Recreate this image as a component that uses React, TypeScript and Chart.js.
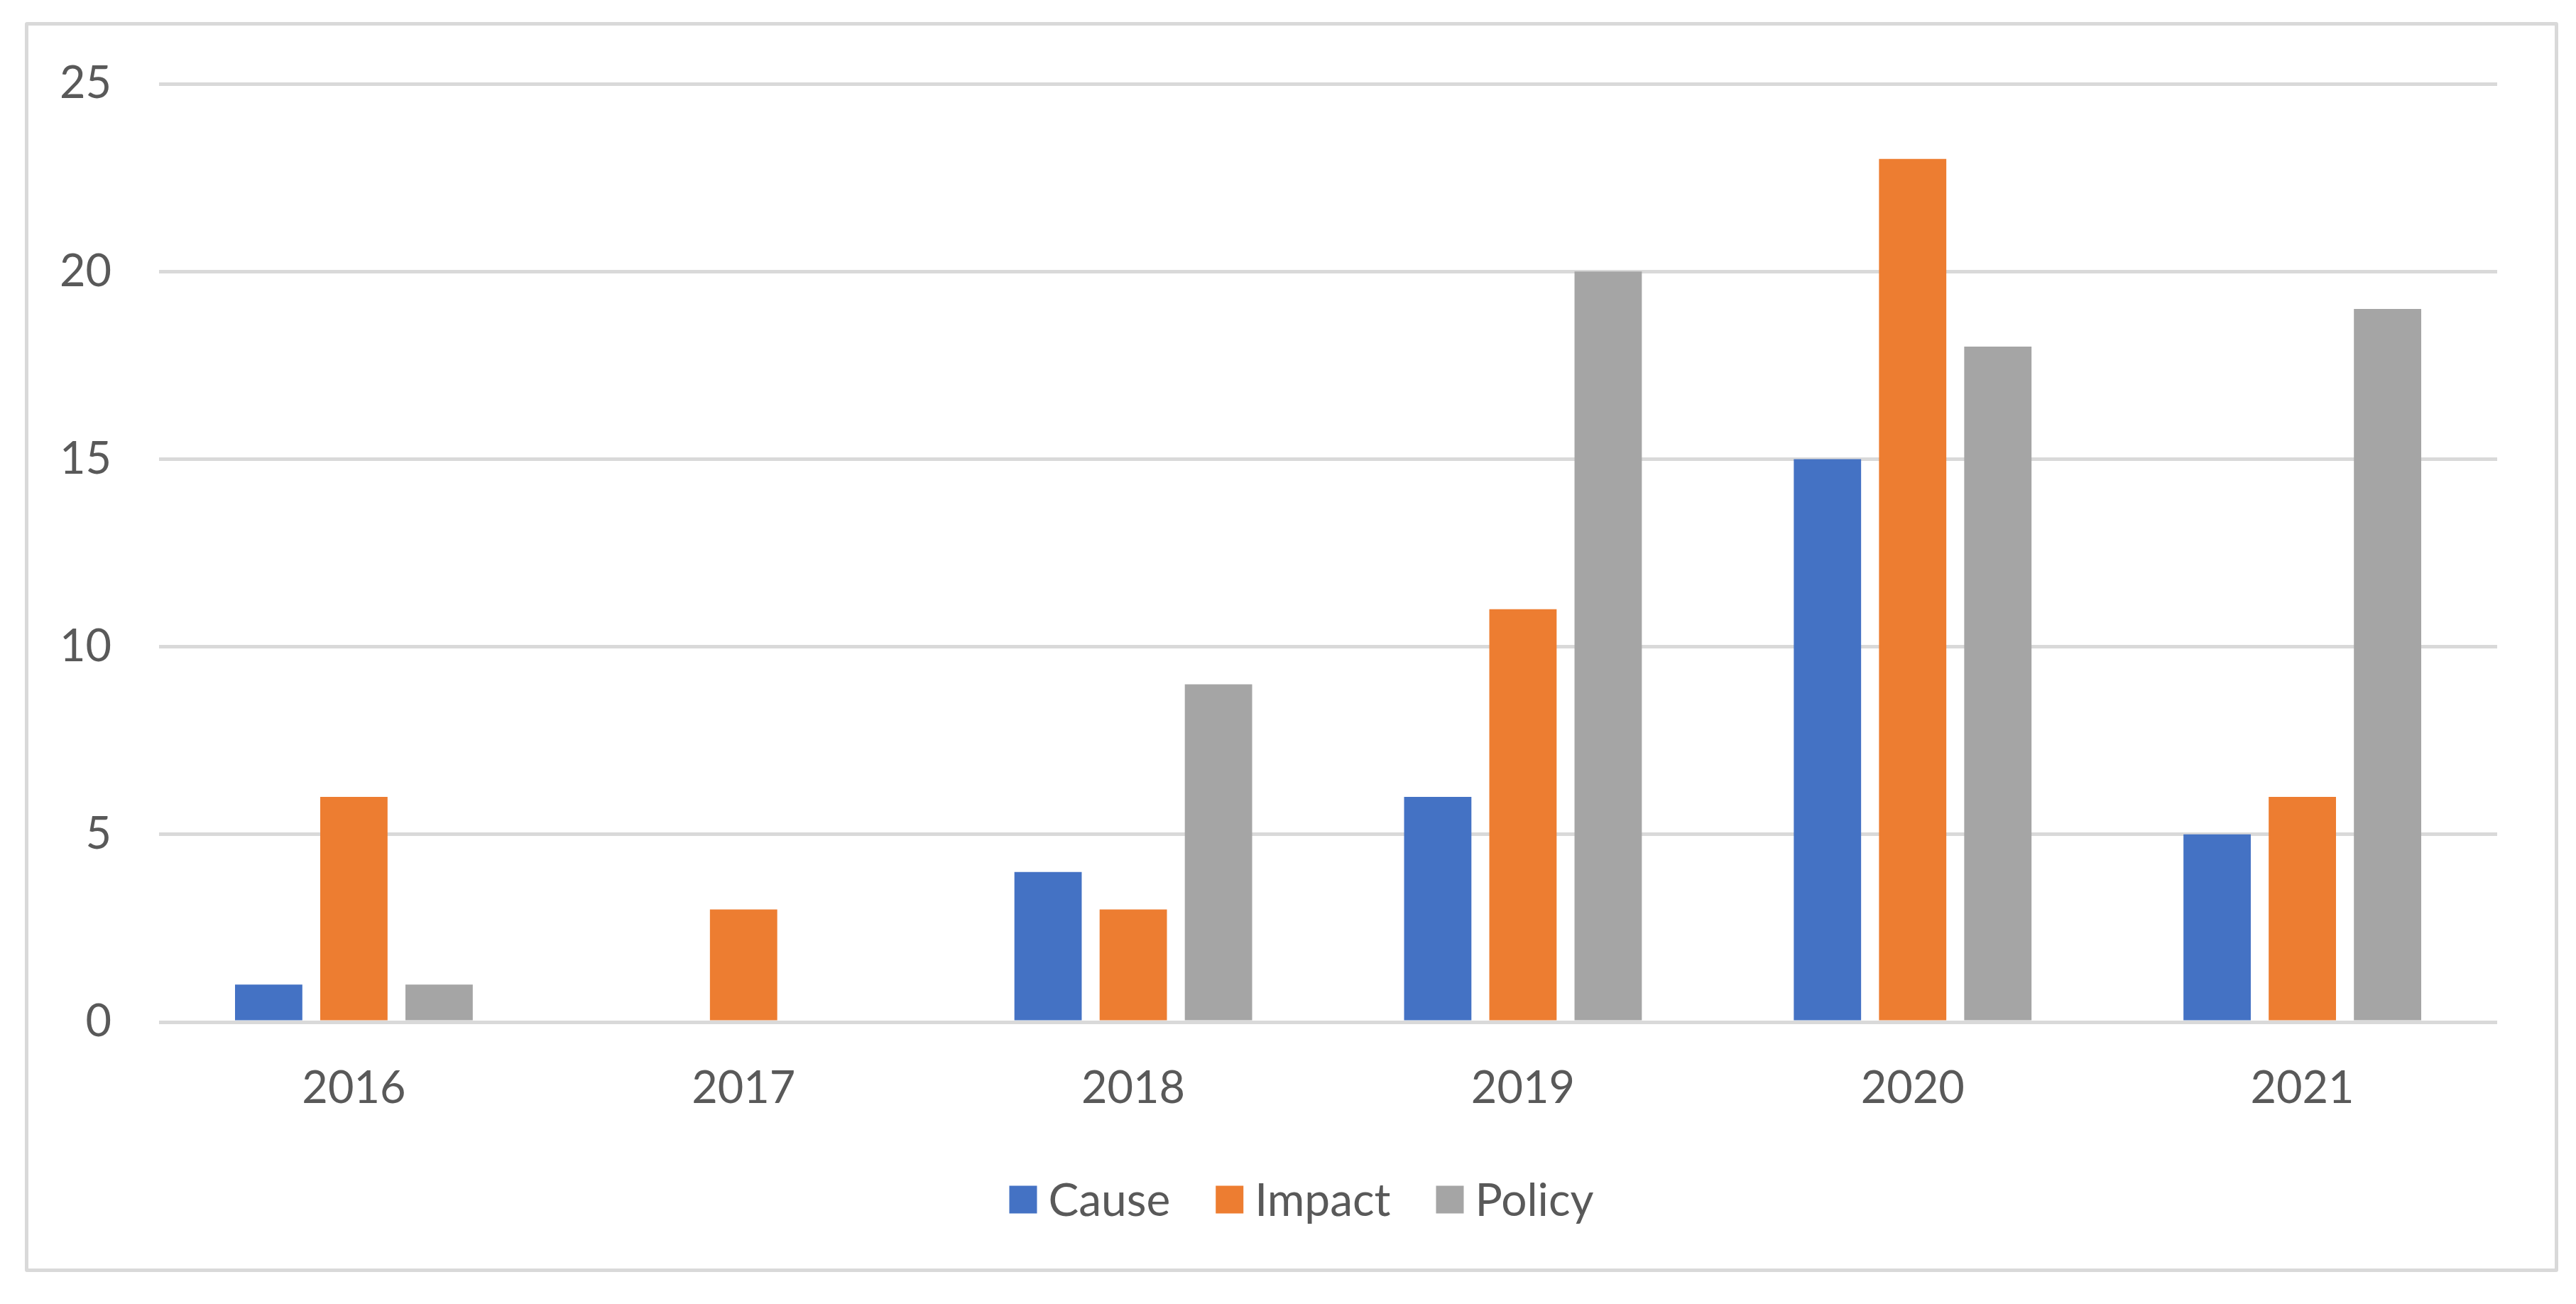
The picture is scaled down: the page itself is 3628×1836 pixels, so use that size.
import React, { useEffect, useRef } from "react";
import { Chart, registerables } from "chart.js";

Chart.register(...registerables);

const categories = ["2016", "2017", "2018", "2019", "2020", "2021"];
const causeValues = [1, 0, 4, 6, 15, 5];
const impactValues = [6, 3, 3, 11, 23, 6];
const policyValues = [1, 0, 9, 20, 18, 19];
const yTicks = [0, 5, 10, 15, 20, 25];

const FONT = "Lato, 'Open Sans', sans-serif";
const TEXT = "#595959";
const GRID = "#d9d9d9";

const legendPlugin = {
  id: "customLegend",
  afterDraw(chart: any) {
    const ctx = chart.ctx as CanvasRenderingContext2D;
    const box = 39;
    const gapText = 16;
    const gapItem = 64;
    const centerX = 1833;
    const centerY = 1689;
    ctx.save();
    ctx.font = `64px ${FONT}`;
    ctx.textBaseline = "middle";
    ctx.textAlign = "left";
    const items = chart.data.datasets.map((d: any) => ({
      label: d.label as string,
      color: d.backgroundColor as string,
      w: ctx.measureText(d.label).width,
    }));
    const total =
      items.reduce((a: number, it: any) => a + box + gapText + it.w, 0) +
      gapItem * (items.length - 1);
    let x = centerX - total / 2;
    for (const it of items) {
      ctx.fillStyle = it.color;
      ctx.fillRect(x, centerY - box / 2, box, box);
      ctx.fillStyle = TEXT;
      ctx.fillText(it.label, x + box + gapText, centerY + 2);
      x += box + gapText + it.w + gapItem;
    }
    ctx.restore();
  },
};

export default function App() {
  const ref = useRef<HTMLCanvasElement | null>(null);

  useEffect(() => {
    if (!ref.current) return;
    const chart = new Chart(ref.current, {
      type: "bar",
      data: {
        labels: categories,
        datasets: [
          { label: "Cause", data: causeValues, backgroundColor: "#4472c4" },
          { label: "Impact", data: impactValues, backgroundColor: "#ed7d31" },
          { label: "Policy", data: policyValues, backgroundColor: "#a5a5a5" },
        ],
      },
      options: {
        animation: false,
        responsive: false,
        maintainAspectRatio: false,
        devicePixelRatio: 1,
        layout: { padding: { left: 0, right: 111, top: 118, bottom: 228 } },
        datasets: {
          bar: { categoryPercentage: 0.656, barPercentage: 0.79 },
        },
        scales: {
          x: {
            grid: { display: false, drawTicks: false },
            border: { display: false },
            ticks: {
              color: TEXT,
              font: { family: FONT, size: 63 },
              padding: 56,
            },
            afterFit: (s: any) => {
              s.height = 169;
            },
          },
          y: {
            min: 0,
            max: 25,
            afterBuildTicks: (s: any) => {
              s.ticks = yTicks.map((v) => ({ value: v }));
            },
            grid: { color: GRID, lineWidth: 5, drawTicks: false },
            border: { display: false },
            ticks: {
              color: TEXT,
              font: { family: FONT, size: 63 },
              padding: 67,
            },
            afterFit: (s: any) => {
              s.width = 224;
            },
          },
        },
        plugins: {
          tooltip: { enabled: false },
          legend: { display: false },
        },
      },
      plugins: [legendPlugin],
    });
    return () => chart.destroy();
  }, []);

  return (
    <div
      style={{
        position: "fixed",
        left: 0,
        top: 0,
        width: 3628,
        height: 1836,
        background: "#ffffff",
      }}
    >
      <canvas
        ref={ref}
        width={3628}
        height={1836}
        style={{ position: "absolute", left: 0, top: 0, width: 3628, height: 1836 }}
      />
      <div
        style={{
          position: "absolute",
          left: 35,
          top: 31,
          width: 3603 - 35,
          height: 1791 - 31,
          border: "5px solid #d9d9d9",
          borderRadius: 3,
          boxSizing: "border-box",
          pointerEvents: "none",
        }}
      />
    </div>
  );
}
